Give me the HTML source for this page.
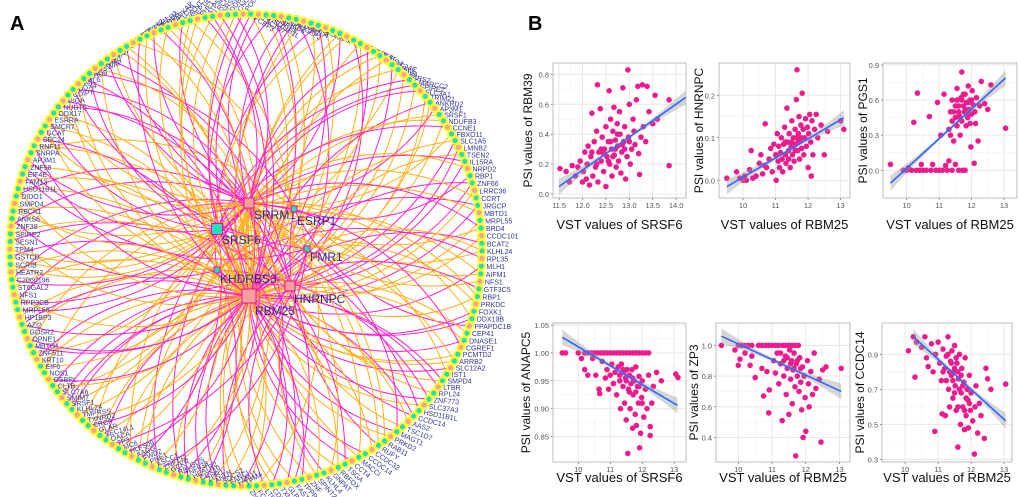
<!DOCTYPE html>
<html><head><meta charset="utf-8">
<style>
html,body{margin:0;padding:0;background:#fff;}
svg{display:block;font-family:"Liberation Sans",sans-serif;}
</style></head>
<body>
<svg id="fig" width="1020" height="497" viewBox="0 0 1020 497" xmlns="http://www.w3.org/2000/svg">
<text x="10" y="30" font-size="20" font-weight="bold" fill="#000">A</text>
<text x="528" y="30" font-size="20" font-weight="bold" fill="#000">B</text>
<g id="net"></g>
<g id="plots"></g>
</svg>
<script>
const NS="http://www.w3.org/2000/svg";
function mk(tag,attrs,parent){const e=document.createElementNS(NS,tag);for(const k in attrs)e.setAttribute(k,attrs[k]);parent.appendChild(e);return e;}

/* ---------- Network (panel A) ---------- */
const geneNames=["PCBP3","TSC1D7","HSD11B1L","SNRPE","ANKS6","ARHGEF2","DDX41","SMPD4","PPIB","NAGK","FAM26F","ATP2A1","GAB1","NR2F6","MUC5","RBCK1","PRPF8","GCAT","COQ4","SEC24C","CRYZ","SIVA","PARS2","SMARCC2","SPIRE2","SLC3A1","TRIM21","ANKRD2","AP3M1","SRSF1","NDUFB3","CCNE1","FBXO11","SLC1A5","LMNB2","TSEN2","IL15RA","NRPD2","RBP1","ZNF66","LRRC36","CCRT","JRGCP","MBTD1","MRPL55","BRD4","CCDC101","BCAT2","KLHL24","RPL35","MLH1","AIFM1","NFS1","GTF3C5","RBP1","PRKDC","FOXK1","DDX19B","PPAPDC1B","CEP41","DNASE1","CGREF1","PCMTD2","ARRB2","SLC12A2","IST1","SMPD4","LTBR","RPL24","ZNF773","SLC37A3","HSD11B1L","CCDC14","AAS2","TSC1D7","MAGT1","PRKD2","RAB11","RUFY","CCDC32","CCDC14","MACCI","CCT4","TSGA","RBFOX","GNPAT","KLHL4","SPINT2","ZNF","TPPP3","FAST2","GLRX","TXNRD2","CDKN2","LTBR","FCGR","ZNF462","TPM4","FAM11","FANCI","SOCS2","ANLN","ZPR1","CDX10","HEATR2","ZNF638","RALGDS","GCKR","ZNF132","ASCC1","PNE1","FWD2","AAGG","HLFS09","MC6","TP3","OACA","SEC14L1","GLAR","CRCP","TXNRD2","TMPRSS","KLHL24","SRSF1","SMIM7","SLC7A6","CLTB","OSBPL","NOS1","EIF6","KRT10","ZNF511","MBTD1","OPNE1","GOSR2","AZI2","HP1BP3","MRPL55","RPP3CB","NFS1","ST6GAL2","C20orf196","HEATR2","SCRIB","GSTCD","TPM4","SESN1","SPIRE2","ZNF38","ANKS6","RBCK1","SMPD4","DIDO1","HSD11B1L","FAM13","EIF4E","ZNF58","AP3M1","SNRPA","RNF11","SEC24","GCAT","SMCR7","ESRRA","DDX17","NUDT5","PIGA","CDIPT","DDX4","ARL6","CHD6","SFSWAP","NAA40","ZNF84","PSMD4","HNRNPF","GTF2H","UBE2Q","CCT7","MRPS2","SSRP1","IFNGR2","KDM5","MAPKAP","TTC19","GALNT","SEPT9","PHF1","ATP5D","LRCH4","SRSF11","DDB2","CNOT3","POLR2A"];
const hubNames=["SRRM1","SRSF6","ESRP1","FMR1","KHDRBS3","RBM25","HNRNPC"];
const hubX=[249,217,294,307,217,249,290];
const hubY=[203,229,209,249,270,296,286];
const hubSize=[10,11,6,6,6,14,10];
const hubFill=["#f4a0a0","#22ddc0","#22ddc0","#22ddc0","#22ddc0","#f4a0a0","#f4a0a0"];
const hubLabelX=[254,222,297,310,220,255,294];
const hubLabelY=[219,244,225,261,283,315,303];

const net=document.getElementById('net');
const cx=246, cy=250, R=236, N=geneNames.length;
const edgeG=mk('g',{},net);


const nodeG=mk('g',{},net);


const hubPattern=[5,0,5,1,5,0,6,5,0,4,5,1,0,5,6,3,5,0,2,5];
const colorPattern=["#ffae1a","#ff22cc","#ffae1a","#ff22cc","#ffae1a","#ff22cc","#ff22cc","#ffae1a","#ffae1a","#ff22cc","#ffae1a"];
for(let i=0;i<N;i++){
  const a=-Math.PI/2 + (i/N)*2*Math.PI + 0.02;
  const x=cx+R*Math.cos(a), y=cy+R*Math.sin(a);
  const h=hubPattern[i%hubPattern.length];
  const hx=hubX[h], hy=hubY[h];
  const d=Math.hypot(x-hx,y-hy);
  const col=colorPattern[i%colorPattern.length];
  const p=mk('path',{d:`M${hx},${hy} A${d*1.0},${d*1.0} 0 0 ${i%2} ${x.toFixed(1)},${y.toFixed(1)}`,fill:'none',stroke:col,'stroke-width':1},edgeG);
  
  
  if(i%3===0){
    const h2=hubPattern[(i+7)%hubPattern.length];
    const d2=Math.hypot(x-hubX[h2],y-hubY[h2]);
    const p2=mk('path',{d:`M${hubX[h2]},${hubY[h2]} A${d2*1.1},${d2*1.1} 0 0 ${(i+1)%2} ${x.toFixed(1)},${y.toFixed(1)}`,fill:'none',stroke:colorPattern[(i+3)%colorPattern.length],'stroke-width':1},edgeG);
    
    
  }
  const c=mk('circle',{cx:x.toFixed(1),cy:y.toFixed(1),r:3.6,fill:(i%3===1)?'#f4a0a0':'#22ddc0',stroke:'#ffff22','stroke-width':2},nodeG);
  
  
  const sa=Math.sin(a);
  let rot=0;
  if(sa<-0.6) rot=-55*(-sa-0.6)/0.4*(Math.cos(a)<0?1:-0.6);
  if(sa>0.6) rot=55*(sa-0.6)/0.4*(Math.cos(a)<0?-0.6:1);
  const t=mk('text',{x:(x+5).toFixed(1),y:(y+3).toFixed(1),'font-size':7,fill:'#33339a',transform:`rotate(${rot.toFixed(1)} ${x.toFixed(1)} ${y.toFixed(1)})`},nodeG);
  t.textContent=geneNames[i];
  
  
}
for(let h=0;h<hubNames.length;h++){
  const s=hubSize[h];
  const r=mk('rect',{x:hubX[h]-s/2,y:hubY[h]-s/2,width:s,height:s,fill:hubFill[h],stroke:'#e8148c','stroke-width':1},net);
  
  
  const t=mk('text',{x:hubLabelX[h],y:hubLabelY[h],'font-size':12,fill:'#2a2a90'},net);
  t.textContent=hubNames[h];
  
  
}

/* ---------- Scatter panels (panel B) ---------- */
const p1=[[11.52,0.17],[11.65,0.15],[11.72,0.08],[11.78,0.19],[11.85,0.12],[11.9,0.18],[11.95,0.22],[12.0,0.08],[12.02,0.15],[12.05,0.28],[12.08,0.1],[12.1,0.2],[12.12,0.32],[12.15,0.06],[12.18,0.25],[12.2,0.54],[12.22,0.12],[12.25,0.35],[12.28,0.18],[12.3,0.42],[12.32,0.73],[12.33,0.08],[12.35,0.28],[12.38,0.57],[12.4,0.22],[12.42,0.38],[12.45,0.15],[12.47,0.3],[12.5,0.45],[12.5,0.05],[12.52,0.25],[12.55,0.35],[12.57,0.69],[12.58,0.2],[12.6,0.5],[12.62,0.3],[12.63,0.12],[12.65,0.42],[12.67,0.58],[12.68,0.26],[12.7,0.36],[12.72,0.18],[12.74,0.47],[12.75,0.32],[12.77,0.22],[12.79,0.55],[12.8,0.4],[12.82,0.14],[12.84,0.28],[12.86,0.71],[12.88,0.35],[12.9,0.45],[12.92,0.1],[12.95,0.25],[12.97,0.83],[12.98,0.38],[13.0,0.6],[13.02,0.2],[13.05,0.3],[13.08,0.5],[13.1,0.42],[13.12,0.33],[13.15,0.63],[13.18,0.72],[13.2,0.27],[13.22,0.13],[13.25,0.38],[13.28,0.73],[13.3,0.45],[13.35,0.35],[13.38,0.72],[13.42,0.55],[13.5,0.47],[13.55,0.66],[13.6,0.5],[13.85,0.19],[13.85,0.63],[14.27,0.28],[12.6,0.35],[12.45,0.27],[12.7,0.3],[12.55,0.22],[12.85,0.33],[12.4,0.3],[12.65,0.25],[12.75,0.4],[12.3,0.2],[12.9,0.3],[12.2,0.28],[13.0,0.35]];
const p2=[[9.5,0.005],[9.8,0.02],[9.9,0.005],[10.0,0.0],[10.05,0.01],[10.1,0.0],[10.2,0.025],[10.25,0.07],[10.3,0.005],[10.4,0.01],[10.5,0.04],[10.55,0.06],[10.6,0.015],[10.65,0.035],[10.68,0.133],[10.72,0.03],[10.8,0.05],[10.85,0.075],[10.9,0.02],[10.95,0.085],[11.0,0.06],[11.02,0.0],[11.05,0.11],[11.08,0.045],[11.1,0.08],[11.12,0.03],[11.15,0.065],[11.18,0.1],[11.2,0.05],[11.22,0.02],[11.25,0.085],[11.28,0.125],[11.3,0.06],[11.32,0.04],[11.35,0.17],[11.37,0.09],[11.4,0.07],[11.42,0.11],[11.45,0.03],[11.48,0.08],[11.5,0.14],[11.52,0.06],[11.55,0.1],[11.57,0.045],[11.6,0.12],[11.62,0.085],[11.64,0.19],[11.66,0.26],[11.68,0.07],[11.7,0.11],[11.72,0.15],[11.74,0.05],[11.76,0.095],[11.78,0.13],[11.8,0.075],[11.82,0.205],[11.85,0.12],[11.87,0.06],[11.9,0.1],[11.92,0.145],[11.95,0.08],[11.98,0.125],[12.0,0.03],[12.02,0.11],[12.05,0.155],[12.08,0.09],[12.1,0.01],[12.12,0.14],[12.15,0.06],[12.2,0.12],[12.25,0.155],[12.3,0.1],[12.4,0.13],[12.5,0.06],[12.6,0.115],[13.0,0.14],[13.1,0.12],[11.5,0.09],[11.6,0.07],[11.4,0.05],[11.7,0.09],[11.3,0.09],[11.8,0.1],[11.55,0.08],[11.65,0.1]];
const p3=[[9.5,0.05],[9.9,0.0],[10.0,0.0],[10.05,0.02],[10.15,0.0],[10.22,0.41],[10.3,0.0],[10.33,0.66],[10.4,0.0],[10.45,0.05],[10.5,0.0],[10.6,0.0],[10.7,0.46],[10.75,0.0],[10.8,0.05],[10.9,0.0],[10.95,0.58],[11.0,0.0],[11.05,0.3],[11.1,0.0],[11.15,0.65],[11.2,0.04],[11.25,0.0],[11.3,0.35],[11.3,0.08],[11.35,0.5],[11.4,0.0],[11.4,0.6],[11.45,0.25],[11.5,0.45],[11.5,0.05],[11.55,0.7],[11.55,0.38],[11.6,0.0],[11.6,0.55],[11.62,0.47],[11.65,0.3],[11.68,0.62],[11.7,0.84],[11.7,0.42],[11.72,0.0],[11.75,0.55],[11.78,0.5],[11.8,0.65],[11.8,0.0],[11.83,0.38],[11.85,0.58],[11.88,0.45],[11.9,0.72],[11.92,0.52],[11.95,0.6],[11.98,0.2],[12.0,0.48],[12.02,0.68],[12.05,0.56],[12.08,0.06],[12.1,0.5],[12.12,0.4],[12.15,0.62],[12.2,0.25],[12.25,0.55],[12.3,0.76],[12.4,0.57],[12.5,0.52],[12.6,0.73],[13.05,0.36],[11.6,0.5],[11.5,0.55],[11.7,0.6],[11.8,0.52],[11.4,0.42],[11.9,0.58],[11.65,0.45],[11.75,0.65],[11.55,0.6],[11.85,0.48],[11.45,0.5],[12.0,0.6],[11.35,0.3],[11.95,0.4]];
const p4=[[9.5,1.0],[9.6,1.0],[10.0,1.0],[10.2,1.0],[10.3,1.0],[10.4,1.0],[10.5,1.0],[10.6,1.0],[10.7,1.0],[10.8,1.0],[10.9,1.0],[11.0,1.0],[11.1,1.0],[11.2,1.0],[11.3,1.0],[11.4,1.0],[11.5,1.0],[11.6,1.0],[11.7,1.0],[11.8,1.0],[11.9,1.0],[12.0,1.0],[12.1,1.0],[12.2,1.0],[10.1,0.99],[10.2,0.97],[10.3,0.96],[10.45,0.99],[10.55,0.96],[10.65,0.935],[10.67,0.927],[10.75,0.985],[10.85,0.955],[10.9,0.97],[10.95,0.935],[11.0,0.96],[11.05,0.98],[11.1,0.945],[11.15,0.965],[11.2,0.925],[11.25,0.975],[11.3,0.95],[11.32,0.9],[11.35,0.98],[11.4,0.94],[11.42,0.965],[11.45,0.91],[11.48,0.955],[11.5,0.88],[11.52,0.97],[11.55,0.82],[11.57,0.935],[11.6,0.96],[11.62,0.9],[11.65,0.945],[11.68,0.97],[11.7,0.865],[11.72,0.925],[11.75,0.95],[11.78,0.89],[11.8,0.975],[11.82,0.87],[11.85,0.94],[11.88,0.91],[11.9,0.958],[11.92,0.83],[11.95,0.856],[11.98,0.92],[12.0,0.95],[12.05,0.885],[12.1,0.935],[12.15,0.9],[12.2,0.96],[12.25,0.868],[12.25,0.852],[12.3,0.91],[12.35,0.94],[12.45,0.965],[12.6,0.95],[13.05,0.962],[13.12,0.956],[11.5,0.95],[11.6,0.93],[11.7,0.955],[11.4,0.97],[11.8,0.93],[11.3,0.96],[11.9,0.94],[12.0,0.91]];
const p5=[[9.5,1.0],[9.9,0.97],[10.0,0.87],[10.05,0.91],[10.1,1.0],[10.2,0.95],[10.3,1.0],[10.35,0.87],[10.4,0.93],[10.5,0.79],[10.6,1.0],[10.7,0.85],[10.75,0.67],[10.8,1.0],[10.85,0.83],[10.9,0.56],[10.92,0.71],[11.0,1.0],[11.05,0.9],[11.1,0.82],[11.15,0.95],[11.2,0.75],[11.25,0.88],[11.3,0.51],[11.32,1.0],[11.35,0.8],[11.4,0.93],[11.42,0.68],[11.45,0.85],[11.5,0.55],[11.52,0.97],[11.55,0.78],[11.58,0.9],[11.6,0.62],[11.62,0.84],[11.65,0.95],[11.68,0.73],[11.7,0.28],[11.72,0.88],[11.75,0.8],[11.78,1.0],[11.8,0.7],[11.82,0.92],[11.85,0.76],[11.88,0.58],[11.9,0.86],[11.92,0.4],[11.95,0.8],[11.98,0.66],[12.0,0.44],[12.05,0.9],[12.08,0.75],[12.1,0.6],[12.15,0.83],[12.2,0.68],[12.25,0.95],[12.3,0.72],[12.4,0.78],[12.45,0.37],[12.5,0.84],[12.6,0.86],[13.05,0.85],[10.0,1.0],[10.2,1.0],[10.4,1.0],[10.7,1.0],[10.9,1.0],[11.1,1.0],[11.2,1.0],[11.4,1.0],[11.5,1.0],[11.6,1.0],[11.7,1.0],[11.45,0.92],[11.55,0.88],[11.65,0.85],[11.35,0.9],[11.75,0.9],[11.85,0.85],[11.25,0.95]];
const p6=[[10.1,0.92],[10.25,1.0],[10.3,0.77],[10.35,0.97],[10.5,0.94],[10.6,1.0],[10.65,0.88],[10.7,0.83],[10.8,0.96],[10.85,0.8],[10.9,0.46],[10.92,0.9],[11.0,0.97],[11.05,0.85],[11.1,0.75],[11.12,0.56],[11.15,0.93],[11.2,0.82],[11.22,0.55],[11.25,0.89],[11.3,1.0],[11.32,0.7],[11.35,0.6],[11.38,0.86],[11.4,0.78],[11.42,0.92],[11.45,0.65],[11.48,0.8],[11.5,0.95],[11.52,0.72],[11.55,0.58],[11.57,0.85],[11.6,0.37],[11.62,0.76],[11.65,0.9],[11.68,0.5],[11.7,0.68],[11.72,0.82],[11.75,0.6],[11.78,0.74],[11.8,0.47],[11.82,0.88],[11.85,0.55],[11.88,0.7],[11.9,0.64],[11.92,0.48],[11.95,0.78],[11.98,0.58],[12.0,0.68],[12.05,0.52],[12.1,0.33],[12.12,0.6],[12.15,0.72],[12.2,0.45],[12.25,0.62],[12.3,0.55],[12.4,0.42],[12.45,0.82],[12.5,0.76],[12.6,0.7],[13.05,0.73],[11.4,0.85],[11.5,0.82],[11.6,0.8],[11.7,0.78],[11.3,0.9],[11.45,0.75],[11.55,0.88],[11.65,0.7],[11.75,0.72],[11.85,0.65],[11.35,0.8],[11.25,0.75],[11.95,0.62],[11.15,0.8],[11.6,0.6],[11.8,0.58],[11.5,0.68]];
const xTicks1=[11.5,12.0,12.5,13.0,13.5,14.0];
const yTicks1=[0.0,0.2,0.4,0.6,0.8];
const xTicks2=[10,11,12,13];
const yTicks2=[0.0,0.1,0.2];
const yTicks3=[0.0,0.3,0.6,0.9];
const yTicks4=[0.85,0.90,0.95,1.00,1.05];
const yTicks5=[0.4,0.6,0.8,1.0];
const yTicks6=[0.3,0.5,0.7,0.9];
const fit1=[11.5,0.05,14.27,0.66];
const fit2=[9.5,-0.015,13.1,0.147];
const fit3=[9.5,-0.11,13.05,0.79];
const fit4=[9.5,1.028,13.1,0.906];
const fit5=[9.5,1.06,13.05,0.70];
const fit6=[10.25,1.0,13.05,0.52];
const yLabels=["PSI values of RBM39","PSI values of HNRNPC","PSI values of PGS1","PSI values of ANAPC5","PSI values of ZP3","PSI values of CCDC14"];
const xLabels=["VST values of SRSF6","VST values of RBM25","VST values of RBM25","VST values of SRSF6","VST values of RBM25","VST values of RBM25"];
const yTitleX=[528,699,863,526,694,860];

const panels=[
 {pts:p1,xt:xTicks1,yt:yTicks1,fit:fit1,xd:[11.37,14.21],yd:[-0.027,0.876],box:[553,63,686,198],dec:1},
 {pts:p2,xt:xTicks2,yt:yTicks2,fit:fit2,xd:[9.26,13.29],yd:[-0.0416,0.276],box:[719,63,850,198],dec:1,xdec:0},
 {pts:p3,xt:xTicks2,yt:yTicks3,fit:fit3,xd:[9.27,13.40],yd:[-0.237,0.917],box:[883,63,1017,198],dec:1,xdec:0},
 {pts:p4,xt:xTicks2,yt:yTicks4,fit:fit4,xd:[9.21,13.37],yd:[0.8045,1.0536],box:[553,323,686,462],dec:2,xdec:0},
 {pts:p5,xt:xTicks2,yt:yTicks5,fit:fit5,xd:[9.34,13.31],yd:[0.24,1.146],box:[716,323,850,462],dec:1,xdec:0},
 {pts:p6,xt:xTicks2,yt:yTicks6,fit:fit6,xd:[9.30,13.24],yd:[0.285,1.079],box:[882,323,1012,462],dec:1,xdec:0}
];
const plots=document.getElementById('plots');
panels.forEach((P,k)=>{
  const [L,T,Rr,B]=P.box;
  const sx=v=>L+(v-P.xd[0])/(P.xd[1]-P.xd[0])*(Rr-L);
  const sy=v=>B-(v-P.yd[0])/(P.yd[1]-P.yd[0])*(B-T);
  const g=mk('g',{},plots);
  
  
  const clipId='clip'+k;
  const cp=mk('clipPath',{id:clipId},g); mk('rect',{x:L,y:T,width:Rr-L,height:B-T},cp);
  const grid=mk('g',{},g);
  
  
  for(let i=0;i<P.xt.length-1;i++){const m=sx((P.xt[i]+P.xt[i+1])/2);mk('line',{x1:m,x2:m,y1:T,y2:B,stroke:'#f3f3f3','stroke-width':0.6},grid);}
  for(let i=0;i<P.yt.length-1;i++){const m=sy((P.yt[i]+P.yt[i+1])/2);mk('line',{x1:L,x2:Rr,y1:m,y2:m,stroke:'#f3f3f3','stroke-width':0.6},grid);}
  P.xt.forEach(v=>{const x=sx(v);mk('line',{x1:x,x2:x,y1:T,y2:B,stroke:'#e6e6e6','stroke-width':0.9},grid);
    const t=mk('text',{x:x,y:B+10,'font-size':7.5,fill:'#555','text-anchor':'middle'},g);
    t.textContent=(P.xdec===0)?String(v):v.toFixed(1);
    
    
    mk('line',{x1:x,x2:x,y1:B,y2:B+2,stroke:'#444','stroke-width':0.6},g);});
  P.yt.forEach(v=>{const y=sy(v);mk('line',{x1:L,x2:Rr,y1:y,y2:y,stroke:'#e6e6e6','stroke-width':0.9},grid);
    const t=mk('text',{x:L-4,y:y+3,'font-size':7.5,fill:'#555','text-anchor':'end'},g);
    t.textContent=v.toFixed(P.dec);
    
    
    mk('line',{x1:L-2,x2:L,y1:y,y2:y,stroke:'#444','stroke-width':0.6},g);});
  const pg=mk('g',{'clip-path':`url(#${clipId})`},g);
  P.pts.forEach(p=>{const c=mk('circle',{cx:sx(p[0]).toFixed(1),cy:sy(p[1]).toFixed(1),r:2.8,fill:'#ec1c8c'},pg);
    
    });
  const [x0,y0,x1,y1]=P.fit;
  const xm=(x0+x1)/2, n=20, top=[], bot=[];
  const span=(P.yd[1]-P.yd[0]);
  for(let i=0;i<=n;i++){const xv=x0+(x1-x0)*i/n;const yv=y0+(y1-y0)*i/n;
    const hw=span*(0.012+0.045*Math.pow((xv-xm)/((x1-x0)/2),2));
    top.push(sx(xv).toFixed(1)+','+sy(yv+hw).toFixed(1));bot.unshift(sx(xv).toFixed(1)+','+sy(yv-hw).toFixed(1));}
  const band=mk('polygon',{points:top.concat(bot).join(' '),fill:'#999','fill-opacity':0.4},pg);
  
  
  const ln=mk('line',{x1:sx(x0),y1:sy(y0),x2:sx(x1),y2:sy(y1),stroke:'#3366ff','stroke-width':1.6},pg);
  
  
  const fr=mk('rect',{x:L,y:T,width:Rr-L,height:B-T,fill:'none',stroke:'#bdbdbd','stroke-width':1},g);
  
  
  const xl=mk('text',{x:(L+Rr)/2,y:B+(k<3?31:20),'font-size':13,fill:'#111','text-anchor':'middle'},g);
  xl.textContent=xLabels[k];
  
  
  const yx=yTitleX[k];
  const yl=mk('text',{x:yx+4,y:(T+B)/2,'font-size':12,fill:'#111','text-anchor':'middle',transform:`rotate(-90 ${yx+4} ${(T+B)/2})`},g);
  yl.textContent=yLabels[k];
  
  
});
</script>
</body></html>
